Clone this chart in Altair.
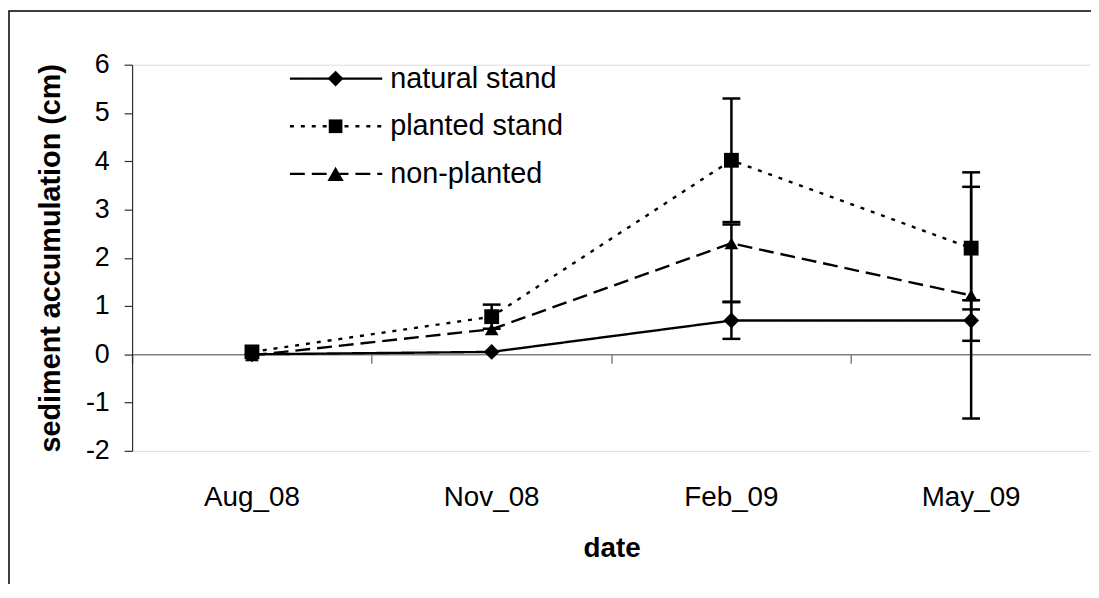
import altair as alt
import pandas as pd

dates = ["Aug_08", "Nov_08", "Feb_09", "May_09"]
series = ["natural stand", "planted stand", "non-planted"]

natural = [0.0, 0.05, 0.70, 0.70]
natural_err_minus = [0.0, 0.0, 0.38, 0.42]
natural_err_plus = [0.0, 0.0, 0.38, 0.42]
planted = [0.05, 0.78, 4.02, 2.20]
planted_err_minus = [0.0, 0.25, 1.28, 1.27]
planted_err_plus = [0.0, 0.25, 1.28, 1.27]
nonplanted = [-0.02, 0.52, 2.30, 1.22]
nonplanted_err_minus = [0.0, 0.0, 1.21, 2.55]
nonplanted_err_plus = [0.0, 0.0, 0.39, 2.55]

rows = []
for s, vals, em, ep in zip(series, [natural, planted, nonplanted],
                           [natural_err_minus, planted_err_minus, nonplanted_err_minus],
                           [natural_err_plus, planted_err_plus, nonplanted_err_plus]):
    for d, v, a, b in zip(dates, vals, em, ep):
        rows.append({"date": d, "series": s, "value": v, "err": a + b,
                     "lo": v - a, "hi": v + b})
df = pd.DataFrame(rows)
df_err = df[df["err"] > 0]

FONT = "Liberation Sans"
W, H = 966, 389
dashes = [[1, 0], [4, 7], [15, 7]]
shapes = ["diamond", "square", "triangle-up"]
sizes = [256, 190, 270]

xs = alt.X("date:N", sort=dates,
           scale=alt.Scale(domain=dates, paddingInner=0, paddingOuter=0),
           axis=alt.Axis(title="date", orient="bottom", offset=-97.25,
                         bandPosition=0,
                         domainColor="#808080", domainWidth=1.5,
                         tickColor="#808080", tickSize=9, tickWidth=1.5,
                         labelAngle=0, labelFontSize=28, labelPadding=121,
                         labelColor="black", labelFont=FONT,
                         titleFont=FONT, titleFontSize=28, titleFontWeight="bold",
                         titleColor="black", titlePadding=24))
ys = alt.Y("value:Q",
           scale=alt.Scale(domain=[-2, 6], nice=False, zero=False),
           axis=alt.Axis(title="sediment accumulation (cm)", values=list(range(-2, 7)),
                         labelExpr="datum.value + ''",
                         grid=False, domainColor="#303030", domainWidth=1.2,
                         tickColor="#303030", tickSize=8, tickWidth=1.2,
                         labelFontSize=27, labelPadding=15, labelColor="black",
                         labelFont=FONT, titleFont=FONT, titleFontSize=29,
                         titleFontWeight="bold", titleColor="black",
                         titlePadding=20))

dash_scale = alt.Scale(domain=series, range=dashes)
shape_scale = alt.Scale(domain=series, range=shapes)
size_scale = alt.Scale(domain=series, range=sizes)

lines = alt.Chart(df).mark_line(color="black", strokeWidth=2.4).encode(
    x=xs, y=ys,
    strokeDash=alt.StrokeDash("series:N", scale=dash_scale, legend=None),
    detail="series:N",
)

err_rules = alt.Chart(df_err).mark_rule(color="black", strokeWidth=2.5).encode(
    x=alt.X("date:N", sort=dates), y=alt.Y("lo:Q"), y2="hi:Q"
)
cap_lo = alt.Chart(df_err).mark_tick(color="black", thickness=2.5, size=18,
                                     orient="horizontal", opacity=1).encode(
    x=alt.X("date:N", sort=dates), y=alt.Y("lo:Q"))
cap_hi = alt.Chart(df_err).mark_tick(color="black", thickness=2.5, size=18,
                                     orient="horizontal", opacity=1).encode(
    x=alt.X("date:N", sort=dates), y=alt.Y("hi:Q"))

points = alt.Chart(df).mark_point(filled=True, color="black", opacity=1).encode(
    x=alt.X("date:N", sort=dates), y="value:Q",
    shape=alt.Shape("series:N", scale=shape_scale, legend=None),
    size=alt.Size("series:N", scale=size_scale, legend=None),
)

# manual legend
legend_layers = []
for i, s in enumerate(series):
    yy = 14 + 48 * i
    ldf = pd.DataFrame({"series": [s]})
    legend_layers.append(
        alt.Chart(ldf).mark_rule(color="black", strokeWidth=2.4,
                                 strokeDash=dashes[i]).encode(
            x=alt.value(159), x2=alt.value(252), y=alt.value(yy)))
    legend_layers.append(
        alt.Chart(ldf).mark_point(filled=True, color="black", opacity=1,
                                  shape=shapes[i], size=sizes[i]).encode(
            x=alt.value(205), y=alt.value(yy)))
    legend_layers.append(
        alt.Chart(ldf).mark_text(align="left", baseline="middle", fontSize=29,
                                 font=FONT, color="black").encode(
            x=alt.value(260), y=alt.value(yy), text="series:N"))

frame = alt.Chart(pd.DataFrame({"f": [0]})).mark_rect(
    fill="white", fillOpacity=0, stroke="black", strokeWidth=1.5).encode(
    x=alt.value(-124), x2=alt.value(W + 20), y=alt.value(-54), y2=alt.value(H + 200))

chart = alt.layer(frame, lines, err_rules, cap_lo, cap_hi, points, *legend_layers).properties(
    width=W, height=H,
    autosize=alt.AutoSizeParams(type="none"),
    padding={"left": 125, "top": 55, "right": 0, "bottom": 132},
).configure_view(stroke=None).configure(background="white")

chart.save("out.html", embed_options={"renderer": "svg", "actions": False})
